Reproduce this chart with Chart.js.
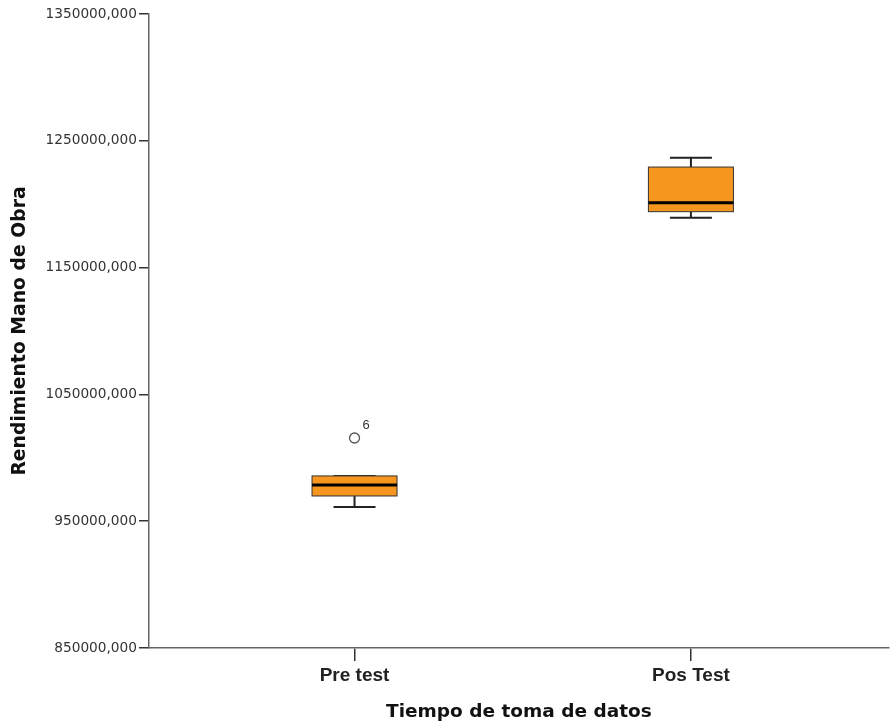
<!DOCTYPE html>
<html><head><meta charset="utf-8">
<script src="https://cdn.jsdelivr.net/npm/chart.js@4/dist/chart.umd.min.js"></script>
<style>html,body{margin:0;padding:0;background:#fff;overflow:hidden}#wrap{width:895px;height:725px;position:relative}</style>
</head><body><div id="wrap"><canvas id="c"></canvas></div>
<script>
// ---- data ----
const categories = ['Pre test', 'Pos Test'];
const whiskerLow = [961200, 1189400];
const q1 = [969900, 1194100];
const median = [978600, 1201200];
const q3 = [985700, 1229300];
const whiskerHigh = [985700, 1236700];
const outlierValues = [1015600];
const outlierCategory = [0];
const outlierLabels = ['6'];
const yMin = 850000, yMax = 1350000, yStep = 100000;

const boxPlugin = {
  id: 'boxplot',
  beforeDatasetsDraw(chart) {
    const { ctx, scales: { x, y } } = chart;
    const halfBox = 42.5, halfCap = 21;
    ctx.save();
    categories.forEach((c, i) => {
      const cx = x.getPixelForValue(i);
      const yq1 = y.getPixelForValue(q1[i]);
      const yq3 = y.getPixelForValue(q3[i]);
      const ym = y.getPixelForValue(median[i]);
      const ylo = y.getPixelForValue(whiskerLow[i]);
      const yhi = y.getPixelForValue(whiskerHigh[i]);
      ctx.strokeStyle = '#222';
      ctx.lineWidth = 2;
      ctx.beginPath();
      ctx.moveTo(cx, yq1); ctx.lineTo(cx, ylo);
      ctx.moveTo(cx - halfCap, ylo); ctx.lineTo(cx + halfCap, ylo);
      ctx.moveTo(cx, yq3); ctx.lineTo(cx, yhi);
      ctx.moveTo(cx - halfCap, yhi); ctx.lineTo(cx + halfCap, yhi);
      ctx.stroke();
      ctx.fillStyle = '#F7961F';
      ctx.fillRect(cx - halfBox, yq3, 2 * halfBox, yq1 - yq3);
      ctx.strokeStyle = '#333';
      ctx.lineWidth = 1;
      ctx.strokeRect(cx - halfBox, yq3, 2 * halfBox, yq1 - yq3);
      ctx.strokeStyle = '#000';
      ctx.lineWidth = 3;
      ctx.beginPath();
      ctx.moveTo(cx - halfBox, ym); ctx.lineTo(cx + halfBox, ym);
      ctx.stroke();
    });
    ctx.restore();
  },
  afterDatasetsDraw(chart) {
    const { ctx, scales: { x, y } } = chart;
    ctx.save();
    ctx.fillStyle = '#333';
    ctx.font = '13px "Liberation Sans", Arial, sans-serif';
    ctx.textAlign = 'left';
    ctx.textBaseline = 'middle';
    outlierValues.forEach((v, i) => {
      ctx.fillText(outlierLabels[i], x.getPixelForValue(outlierCategory[i]) + 8, y.getPixelForValue(v) - 13);
    });
    ctx.restore();
  }
};

new Chart(document.getElementById('c'), {
  type: 'scatter',
  data: {
    datasets: [{
      data: outlierValues.map((v, i) => ({ x: outlierCategory[i], y: v })),
      pointRadius: 5,
      pointHoverRadius: 5,
      borderColor: '#555',
      backgroundColor: '#fff',
      borderWidth: 1.3
    }]
  },
  options: {
    responsive: true,
    maintainAspectRatio: false,
    animation: false,
    layout: { padding: { top: 14, right: 0, left: 0, bottom: 0 } },
    plugins: { legend: { display: false }, tooltip: { enabled: false } },
    scales: {
      x: {
        type: 'linear',
        min: -0.611,
        max: 1.588,
        afterBuildTicks: (s) => { s.ticks = categories.map((c, i) => ({ value: i })); },
        afterFit: (s) => { s.height = 77; s.paddingRight = 0; s.paddingLeft = 0; },
        ticks: {
          callback: (v) => categories[v],
          color: '#222',
          font: { family: '"Liberation Sans", Arial, sans-serif', size: 19, weight: 'bold' },
          padding: 3,
          maxRotation: 0
        },
        grid: { drawOnChartArea: false, drawTicks: true, tickLength: 13, color: '#333', lineWidth: 1.5 },
        border: { color: '#666', width: 1.5 },
        title: {
          display: true,
          text: 'Tiempo de toma de datos',
          color: '#111',
          font: { family: '"DejaVu Sans", sans-serif', size: 18.5, weight: 'bold' },
          padding: { top: 0, bottom: 2 }
        }
      },
      y: {
        min: yMin,
        max: yMax,
        afterFit: (s) => { s.width = 149; },
        ticks: {
          stepSize: yStep,
          callback: (v) => v + ',000',
          color: '#333',
          font: { family: '"DejaVu Sans", sans-serif', size: 13.7 },
          padding: 2
        },
        grid: { drawOnChartArea: false, drawTicks: true, tickLength: 10, color: '#333', lineWidth: 1.5 },
        border: { color: '#666', width: 1.5 },
        title: {
          display: true,
          text: 'Rendimiento Mano de Obra',
          color: '#111',
          font: { family: '"DejaVu Sans", sans-serif', size: 18.8, weight: 'bold' },
          padding: { top: 9, bottom: 0 }
        }
      }
    }
  },
  plugins: [boxPlugin]
});
</script>
</body></html>
